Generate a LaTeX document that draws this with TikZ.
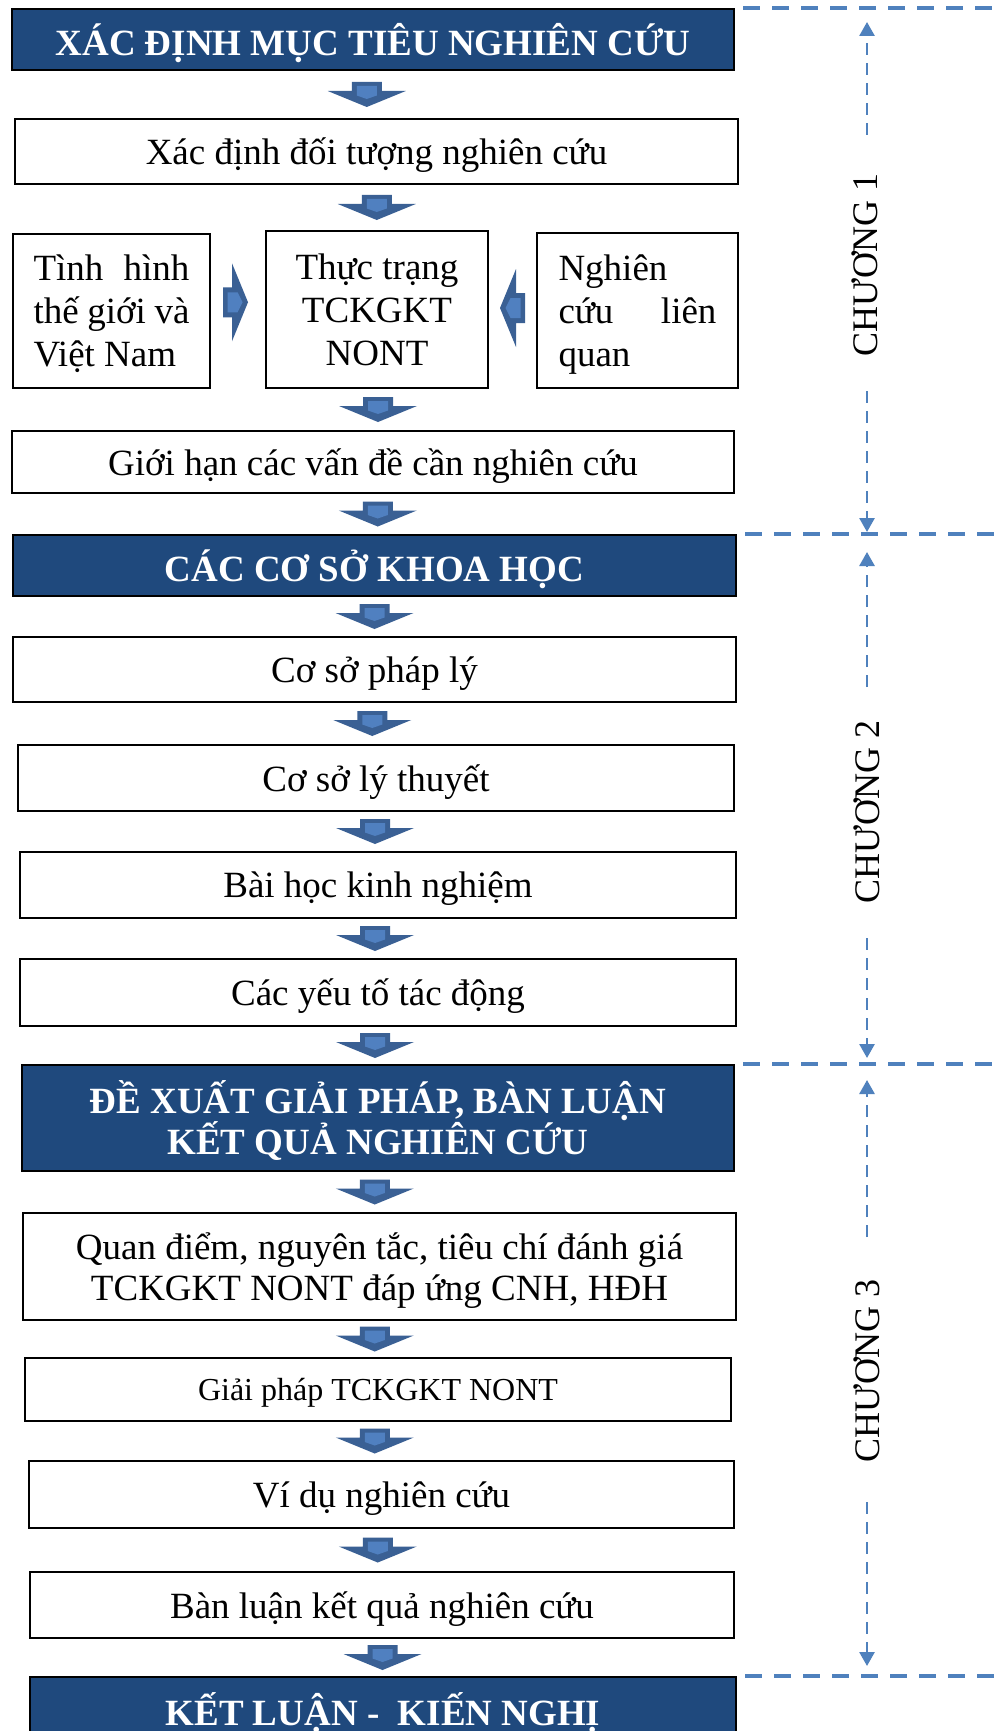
\documentclass[tikz,border=0pt]{standalone}
\usepackage{fontspec}
\setmainfont{Liberation Serif}
\usetikzlibrary{arrows.meta,calc}

\definecolor{headblue}{HTML}{1F497D}
\definecolor{arrlight}{HTML}{5080C0}
\definecolor{arrdark}{HTML}{3A6094}
\definecolor{dashblue}{HTML}{4F81BD}

\newcommand\bodyfont{\fontsize{37}{43}\selectfont}
\newcommand\denseBodyfont{\fontsize{37}{41}\selectfont}
\newcommand\headfont{\bfseries\fontsize{37}{41}\selectfont}
\newcommand\smallbodyfont{\fontsize{32}{38}\selectfont}
\newcommand\chapfont{\fontsize{36}{40}\selectfont}

% rectangle node given by its corners (x1,y1) and (x2,y2)
\newcommand\rectnode[7]{%
  \node[#2, minimum width={(#5-#3)*1pt}, minimum height={(#6-#4)*1pt}]
    (#1) at ({(#3+#5)/2},{(#4+#6)/2}) {#7};}

\tikzset{
  stepbox/.style={draw=black, line width=2pt, fill=white, inner sep=0pt,
    align=center, font=\bodyfont, text depth=0pt},
  headbox/.style={draw=black, line width=2pt, fill=headblue, text=white,
    inner sep=0pt, align=center, font=\headfont, text depth=0pt},
  blockdown/.pic={
    \fill[arrdark] (-15,-12.5) -- (15,-12.5) -- (15,-3.5) -- (39,-3.5)
      -- (0,12.5) -- (-39,-3.5) -- (-15,-3.5) -- cycle;
    \fill[arrlight] (-10,-8.5) -- (10,-8.5) -- (10,1) -- (0,4.5)
      -- (-10,1) -- cycle;
  },
  blockright/.pic={
    \fill[arrdark] (-12.5,-15) -- (-3.5,-15) -- (-3.5,-39) -- (12.5,0)
      -- (-3.5,39) -- (-3.5,15) -- (-12.5,15) -- cycle;
    \fill[arrlight] (-8,-10) -- (2,-10) -- (7,0) -- (2,10) -- (-8,10) -- cycle;
  },
  hdash/.style={dashblue, line width=3.5pt, dash pattern=on 17pt off 12pt},
  vdash/.style={dashblue, line width=2.7pt, dash pattern=on 12pt off 8pt,
    -{Triangle[width=15pt,length=14pt]}},
  chaplabel/.style={rotate=90, font=\chapfont, inner sep=0pt},
}

\begin{document}
\begin{tikzpicture}[x=1pt, y=-1pt]
\useasboundingbox (0,0) rectangle (1001,1731);
\fill[white] (0,0) rectangle (1001,1731);
\coordinate (rightedge) at (1010,0);

% ---- Chapter 1 ----
\rectnode{h1}{headbox}{12}{9}{734}{70}{XÁC ĐỊNH MỤC TIÊU NGHIÊN CỨU}
\rectnode{b2}{stepbox}{15}{119}{738}{184}{Xác định đối tượng nghiên cứu}
\rectnode{lt}{stepbox, align=left}{13}{234}{210}{388}{%
  \makebox[156pt][s]{Tình hình}\\\makebox[156pt][s]{thế giới và}\\Việt Nam}
\rectnode{md}{stepbox}{266}{231}{488}{388}{Thực trạng\\TCKGKT\\NONT}
\rectnode{rt}{stepbox, align=left}{537}{233}{738}{388}{%
  Nghiên\\\makebox[158pt][s]{cứu liên}\\quan}
\rectnode{b3}{stepbox}{12}{431}{734}{493}{Giới hạn các vấn đề cần nghiên cứu}

% ---- Chapter 2 ----
\rectnode{h2}{headbox}{13}{535}{736}{596}{CÁC CƠ SỞ KHOA HỌC}
\rectnode{b4}{stepbox}{13}{637}{736}{702}{Cơ sở pháp lý}
\rectnode{b5}{stepbox}{18}{745}{734}{811}{Cơ sở lý thuyết}
\rectnode{b6}{stepbox}{20}{852}{736}{918}{Bài học kinh nghiệm}
\rectnode{b7}{stepbox}{20}{959}{736}{1026}{Các yếu tố tác động}

% ---- Chapter 3 ----
\rectnode{h3}{headbox}{22}{1065}{734}{1171}{ĐỀ XUẤT GIẢI PHÁP, BÀN LUẬN\\KẾT QUẢ NGHIÊN CỨU}
\rectnode{b8}{stepbox, font=\denseBodyfont}{23}{1213}{736}{1320}{Quan điểm, nguyên tắc, tiêu chí đánh giá\\TCKGKT NONT đáp ứng CNH, HĐH}
\rectnode{b9}{stepbox, font=\smallbodyfont}{25}{1358}{731}{1421}{Giải pháp TCKGKT NONT}
\rectnode{b10}{stepbox}{29}{1461}{734}{1528}{Ví dụ nghiên cứu}
\rectnode{b11}{stepbox}{30}{1572}{734}{1638}{Bàn luận kết quả nghiên cứu}
\rectnode{h4}{headbox}{30}{1677}{736}{1741}{KẾT LUẬN -\ \ KIẾN NGHỊ}

% ---- block arrows between the steps ----
\pic[xshift=-8pt] at ($(h1.south)!0.5!(b2.north)$) {blockdown};
\pic at ($(b2.south)!0.5!(md.north)$) {blockdown};
\pic[xshift=-2.5pt, yshift=8pt] at ($(lt.east)!0.5!(md.west)$) {blockright};
\pic[xscale=-1, yshift=2pt] at ($(md.east)!0.5!(rt.west)$) {blockright};
\pic[xshift=3pt] at ($(md.south)!0.5!(b3.north)$) {blockdown};
\pic[xshift=4pt] at ($(b3.south)!0.5!(h2.north)$) {blockdown};
\pic at ($(h2.south)!0.5!(b4.north)$) {blockdown};
\pic[xshift=-3pt] at ($(b4.south)!0.5!(b5.north)$) {blockdown};
\pic[xshift=-2pt] at ($(b5.south)!0.5!(b6.north)$) {blockdown};
\pic[xshift=-3pt] at ($(b6.south)!0.5!(b7.north)$) {blockdown};
\pic[xshift=-3pt] at ($(b7.south)!0.5!(h3.north)$) {blockdown};
\pic[xshift=-4pt] at ($(h3.south)!0.5!(b8.north)$) {blockdown};
\pic[xshift=-4pt] at ($(b8.south)!0.5!(b9.north)$) {blockdown};
\pic[xshift=-5pt] at ($(b9.south)!0.5!(b10.north)$) {blockdown};
\pic[xshift=-4pt] at ($(b10.south)!0.5!(b11.north)$) {blockdown};
\pic at ($(b11.south)!0.5!(h4.north)$) {blockdown};

% ---- chapter dividers ----
\foreach \h in {h1,h2,h3,h4}
  \draw[hdash] ([xshift=8pt]\h.north east) -- ([xshift=8pt]\h.north east -| rightedge);

% ---- chapter spans ----
\coordinate (c1a) at (867,135);  \coordinate (c1t) at (867,22);
\coordinate (c1b) at (867,391);  \coordinate (c1d) at (867,532);
\coordinate (c2a) at (867,687);  \coordinate (c2t) at (867,552);
\coordinate (c2b) at (867,938);  \coordinate (c2d) at (867,1058);
\coordinate (c3a) at (867,1237); \coordinate (c3t) at (867,1080);
\coordinate (c3b) at (867,1502); \coordinate (c3d) at (867,1666);
\draw[vdash] (c1a) -- (c1t);
\draw[vdash] (c1b) -- (c1d);
\draw[vdash] (c2a) -- (c2t);
\draw[vdash] (c2b) -- (c2d);
\draw[vdash] (c3a) -- (c3t);
\draw[vdash] (c3b) -- (c3d);
\node[chaplabel] (ch1) at (865,265) {CHƯƠNG 1};
\node[chaplabel] (ch2) at (867,812) {CHƯƠNG 2};
\node[chaplabel] (ch3) at (867,1371) {CHƯƠNG 3};
\end{tikzpicture}
\end{document}
